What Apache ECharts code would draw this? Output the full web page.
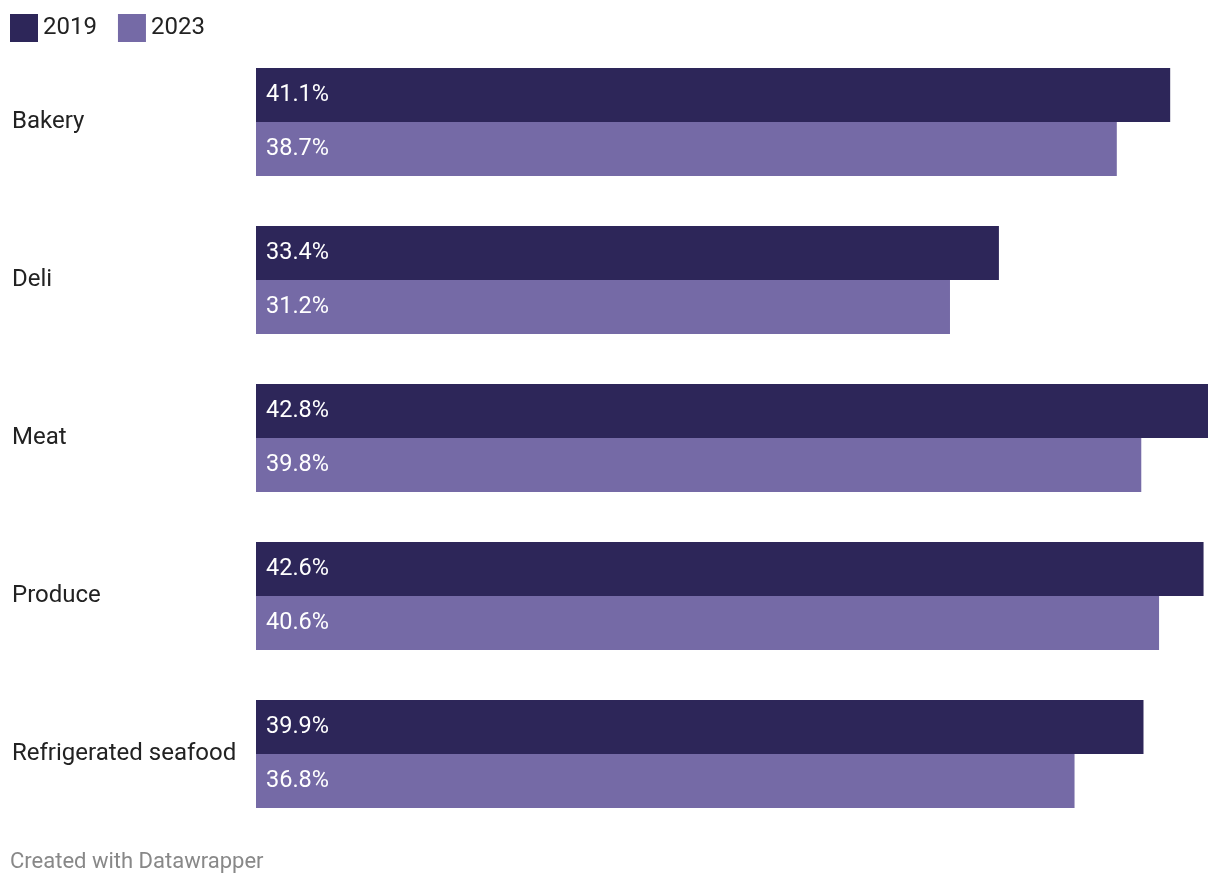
<!DOCTYPE html>
<html>
<head>
<meta charset="utf-8">
<script src="https://cdn.jsdelivr.net/npm/echarts@6/dist/echarts.min.js"></script>
<style>
html,body{margin:0;padding:0;background:#fff;}
#chart{width:1220px;height:886px;}
</style>
</head>
<body>
<div id="chart"></div>
<script>
const categories = ["Bakery", "Deli", "Meat", "Produce", "Refrigerated seafood"];
const values2019 = [41.1, 33.4, 42.8, 42.6, 39.9];
const values2023 = [38.7, 31.2, 39.8, 40.6, 36.8];
const seriesNames = ["2019", "2023"];

const chart = echarts.init(document.getElementById('chart'), null, {renderer: 'canvas'});
const fontFam = 'Roboto, "Noto Sans", sans-serif';
const labelCfg = {
  show: true,
  position: 'insideLeft',
  distance: 10,
  color: '#ffffff',
  fontSize: 23.5,
  fontFamily: fontFam,
  padding: [2, 0, 0, 0],
  formatter: p => p.value.toFixed(1) + '%'
};
chart.setOption({
  animation: false,
  textStyle: {fontFamily: fontFam},
  title: {
    text: 'Created with Datawrapper',
    left: 5, bottom: 8,
    textStyle: {color: '#888888', fontSize: 22, fontWeight: 'normal', fontFamily: fontFam}
  },
  legend: {
    left: 5, top: 9,
    icon: 'rect',
    itemWidth: 28, itemHeight: 28,
    itemGap: 21,
    textStyle: {fontSize: 24, color: '#222222', fontFamily: fontFam},
    data: seriesNames
  },
  grid: {left: 256, right: 12, top: 43, height: 790, containLabel: false},
  xAxis: {
    type: 'value', min: 0, max: 'dataMax', show: false
  },
  yAxis: {
    type: 'category', inverse: true, data: categories,
    axisLine: {show: false}, axisTick: {show: false},
    axisLabel: {align: 'left', margin: 244, fontSize: 24, color: '#222222', fontFamily: fontFam,
      padding: [4, 0, 0, 0]}
  },
  series: [
    {name: seriesNames[0], type: 'bar', data: values2019, barWidth: 54, barGap: '0%', barCategoryGap: '31.6%',
     itemStyle: {color: '#2d2659'}, label: labelCfg},
    {name: seriesNames[1], type: 'bar', data: values2023, barWidth: 54, barGap: '0%', barCategoryGap: '31.6%',
     itemStyle: {color: '#756aa6'}, label: labelCfg}
  ]
});
</script>
</body>
</html>
